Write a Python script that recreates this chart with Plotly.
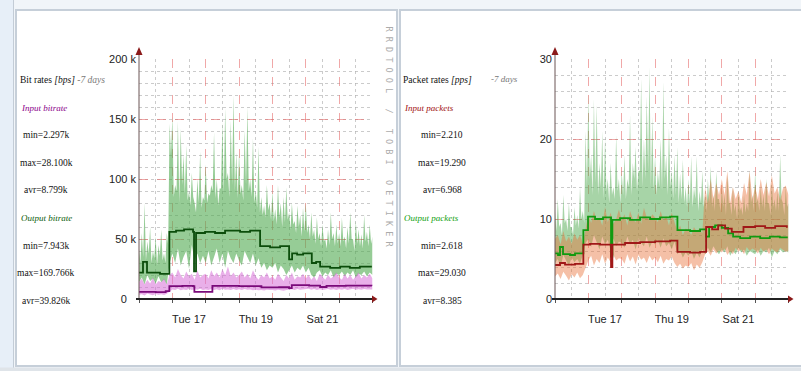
import plotly.graph_objects as go

W, H = 801, 371

# ---------------- time axis (days since Mon 16 00:00) ----------------------
# peak samples every 2 h (even hours), base samples at the odd hours between
N_PEAK = 85
N_BASE = 84
peak_days = [i / 12 for i in range(N_PEAK)]
base_days = [(i + 0.5) / 12 for i in range(N_BASE)]

day_tick_vals = [1.5, 3.5, 5.5]
day_tick_text = ["Tue 17", "Thu 19", "Sat 21"]

# ---------------- LEFT: bit rates (k bps) ----------------------------------
bit_out_max_peaks = [
    42, 55, 80, 48, 60, 40, 52, 45, 58, 38, 55, 146,
    152, 95, 148, 142, 120, 128, 90, 105, 80, 100, 123, 85,
    112, 88, 95, 139, 100, 92, 147, 159, 105, 149, 170, 122,
    122, 95, 141, 160, 100, 134, 90, 127, 85, 78, 95, 80,
    90, 75, 95, 80, 85, 93, 72, 80, 65, 78, 70, 76,
    80, 62, 72, 58, 68, 55, 62, 50, 58, 72, 55, 62,
    55, 68, 52, 60, 72, 50, 65, 58, 54, 70, 56, 62,
    52,
]
bit_out_max_base = [
    30, 35, 32, 38, 30, 34, 28, 36, 32, 30, 45, 120,
    85, 90, 80, 95, 88, 82, 78, 85, 72, 80, 76, 82,
    80, 86, 90, 84, 78, 92, 88, 100, 85, 95, 90, 84,
    88, 82, 95, 90, 85, 80, 76, 72, 70, 68, 74, 66,
    65, 62, 68, 60, 64, 66, 58, 62, 55, 60, 52, 56,
    55, 50, 52, 46, 50, 44, 48, 42, 45, 50, 44, 46,
    44, 48, 42, 46, 50, 40, 46, 44, 42, 48, 44, 46,
]
bit_out_min = [
    14, 18, 12, 20, 15, 17, 13, 19, 14, 16, 12, 30,
    38, 30, 42, 28, 35, 40, 25, 45, 32, 38, 30, 36,
    30, 40, 28, 36, 42, 30, 38, 26, 40, 34, 30, 38,
    32, 28, 40, 35, 30, 38, 28, 34, 26, 30, 24, 28,
    26, 30, 22, 28, 25, 20, 24, 28, 22, 26, 24, 28,
    22, 26, 20, 18, 22, 24, 19, 22, 20, 24, 18, 21,
    20, 23, 19, 22, 20, 24, 18, 21, 20, 23, 19, 22,
    20,
]
bit_in_max = [
    14, 17, 12, 16, 13, 18, 12, 15, 14, 17, 12, 20,
    22, 18, 25, 20, 17, 23, 19, 21, 16, 24, 18, 20,
    21, 17, 24, 19, 22, 18, 25, 20, 27, 19, 22, 18,
    20, 23, 18, 21, 17, 24, 19, 16, 20, 18, 22, 17,
    19, 16, 21, 18, 15, 20, 17, 22, 16, 19, 18, 21,
    17, 20, 16, 19, 15, 21, 18, 16, 20, 17, 19, 22,
    18, 16, 21, 17, 20, 16, 19, 22, 17, 20, 18, 21,
    17,
]
bit_in_min = [
    3.5, 4, 3, 4.5, 3.8, 3.2, 4.2, 3.6, 4, 3.4, 4.4, 6,
    8, 7.5, 8.5, 7.2, 8, 7.6, 8.4, 7.4, 8.2, 7.8, 8.6, 7.5,
    8, 7.4, 8.4, 7.6, 8.2, 7.2, 8.5, 7.8, 8, 7.4, 8.3, 7.6,
    8.1, 7.5, 8.4, 7.7, 8, 7.3, 7.8, 7.2, 7.6, 7, 7.8, 7.4,
    7.6, 7, 7.8, 7.2, 6.8, 7.4, 7.8, 8.2, 7.6, 8.4, 7.8, 8.2,
    8, 8.5, 7.8, 8.3, 7.6, 8.1, 7.4, 8, 8.4, 7.8, 8.2, 7.6,
    8.2, 7.8, 8.4, 7.6, 8, 8.5, 7.8, 8.2, 7.7, 8.3, 7.9, 8.1,
    8,
]
bit_out_avg_days = [0, 0.12, 0.24, 0.63, 0.91, 1.11, 1.35, 1.62, 1.65, 1.71,
                    1.98, 2.28, 2.58, 3.03, 3.33, 3.63, 3.93, 4.23, 4.50, 4.59,
                    4.74, 4.92, 5.18, 5.31, 5.43, 5.73, 6.03, 6.32, 6.62, 6.98]
bit_out_avg = [22, 31, 22, 21, 56, 57, 58, 56, 23, 55,
               56, 55, 57, 56, 57, 44, 43, 44, 33, 38,
               37, 38, 30, 31, 27, 26, 27, 26, 27, 27]
bit_in_avg_days = [0, 0.5, 0.8, 0.91, 1.3, 1.62, 1.66, 2.2, 3.0, 3.67,
                   4.2, 4.5, 4.58, 5.1, 5.43, 5.62, 6.2, 6.98]
bit_in_avg = [6, 5.8, 6.5, 10.8, 11, 10.8, 6, 11, 10.8, 9.7,
              9.8, 9, 11.5, 11.2, 10, 11, 11.2, 11]

bit_ytick_vals = [0, 50, 100, 150, 200]
bit_ytick_text = ["0\u00a0\u00a0\u00a0", "50 k", "100 k", "150 k", "200 k"]

# ---------------- RIGHT: packet rates (pps) --------------------------------
pkt_out_max_peaks = [
    11, 12.5, 9.5, 13, 10, 12, 9, 11.5, 10.5, 14, 11, 21,
    25.7, 18, 25, 24.3, 17, 21, 20, 15, 17, 14, 20.5, 15,
    16, 18, 15, 23, 17, 19, 16, 27.6, 20, 25.3, 29, 22.8,
    18, 16, 20, 27.2, 18, 21.4, 16, 18, 19, 15.7, 17.4, 14,
    15, 17.8, 14, 17.8, 13.5, 16, 13, 15, 16.6, 13, 15.9, 12.5,
    14, 13, 15.5, 12, 14, 11.8, 13.4, 11.5, 13, 12, 16, 13,
    16, 12.5, 14, 13, 15, 12, 14.5, 12.5, 13.5, 18, 12, 14,
    12,
]
pkt_out_max_base = [
    8.5, 9, 8, 9.5, 8.5, 9, 8, 9.2, 8.8, 10, 9.5, 14,
    15, 13, 14.5, 13, 14, 12.5, 13.5, 12, 13, 12.5, 13.5, 12,
    13, 12.5, 14, 13, 15, 13.5, 16, 14, 15, 16, 14, 13.5,
    13, 14, 13.5, 15, 13, 14, 12.5, 13, 12, 12.5, 12, 11.5,
    12, 11.5, 12.5, 11, 12, 11.5, 11, 12, 11.5, 11, 12.5, 11,
    11.5, 10.5, 12, 10.5, 11, 10, 11, 10.5, 10.8, 11, 12, 11,
    12, 11, 11.5, 11, 12, 10.5, 11.5, 11, 11, 12.5, 10.5, 11.5,
]
pkt_out_min = [
    4.5, 5, 4, 5.5, 4.8, 4.2, 5.2, 4.6, 5, 4.4, 5.5, 7,
    7.5, 6.5, 8, 7, 6.2, 7.8, 6.8, 7.4, 6, 7.6, 6.6, 7.2,
    7, 6.4, 7.8, 6.8, 7.4, 6.2, 7.6, 7, 6.6, 7.8, 6.4, 7.2,
    6.8, 7.4, 6.4, 7.6, 6.6, 7, 6.2, 7.2, 5.6, 6, 5.2, 5.8,
    5.4, 6, 5, 5.8, 5.2, 6.2, 5.6, 6.4, 5.8, 6.6, 6, 5.6,
    6.2, 5.8, 6.6, 5.4, 6, 5.6, 6.4, 5.8, 6.2, 5.4, 6, 5.8,
    5.6, 6.2, 5.4, 6, 5.8, 6.4, 5.2, 6, 5.6, 6.2, 5.8, 6,
    5.8,
]
pkt_in_max = [
    7.5, 8, 6.8, 8.5, 7.2, 7.8, 6.9, 8.2, 7.4, 8, 7, 9,
    10.5, 9.5, 11, 9.8, 10.2, 9.2, 11.5, 9.6, 10.8, 9.4, 10, 11.2,
    9.8, 10.6, 9.2, 11, 10, 9.6, 10.8, 9.4, 11.4, 10.2, 9.8, 10.6,
    10.2, 9.6, 11, 9.8, 10.4, 9.2, 10.8, 9.6, 8.5, 9.2, 8, 8.8,
    8.6, 8, 9, 8.4, 8.8, 8.2, 14, 12, 15, 12.5, 14.5, 13,
    15, 13, 16, 12, 14, 12.5, 13.5, 12, 14.5, 13, 16, 12.5,
    14, 12.5, 15, 13, 14.6, 12.8, 15.5, 13.2, 14, 12.4, 13.8, 14.2,
    13,
]
pkt_in_min = [
    2.8, 3.2, 2.5, 3.4, 2.9, 2.3, 3.1, 2.7, 3.3, 2.6, 3, 4,
    4.8, 5.4, 4.2, 5, 4.5, 5.6, 4.4, 5.2, 4.6, 5.5, 4.8, 5.1,
    5, 4.4, 5.6, 4.7, 5.3, 4.3, 5.5, 4.9, 5.2, 4.5, 5.4, 4.8,
    5.2, 4.6, 5.4, 4.4, 5, 4.8, 5.3, 4.5, 4, 4.4, 3.8, 4.2,
    4, 4.5, 3.6, 4.3, 3.9, 4.6, 5.6, 6, 5.4, 6.2, 5.7, 6.1,
    5.8, 6.3, 5.5, 6, 5.6, 6.4, 5.9, 6.2, 5.6, 6.5, 6, 6.3,
    6.1, 5.7, 6.4, 5.9, 6.2, 5.6, 6.3, 6, 5.8, 6.4, 6.1, 5.9,
    6,
]
pkt_out_avg_days = [0, 0.09, 0.15, 0.24, 0.45, 0.6, 0.85, 0.99, 1.2, 1.44,
                    1.68, 1.72, 1.95, 2.25, 2.55, 2.85, 3.15, 3.45, 3.67, 4.05,
                    4.35, 4.53, 4.62, 4.8, 5.0, 5.19, 5.34, 5.55, 5.85, 6.15,
                    6.44, 6.74, 6.95]
pkt_out_avg = [5.7, 5.5, 6.5, 5.6, 5.5, 5.7, 8.6, 10.3, 10.0, 10.2,
               5.3, 9.9, 10.1, 9.9, 10.2, 10.0, 10.2, 10.3, 8.6, 8.5,
               8.7, 7.8, 9.0, 9.2, 8.9, 8.2, 7.8, 7.6, 7.8, 7.6,
               7.8, 7.7, 7.8]
pkt_in_avg_days = [0, 0.15, 0.3, 0.6, 0.85, 1.05, 1.35, 1.68, 1.72, 2.1,
                   2.55, 3.0, 3.45, 3.67, 4.05, 4.35, 4.53, 4.71, 4.89, 5.1,
                   5.3, 5.65, 6.0, 6.3, 6.6, 6.95]
pkt_in_avg = [4.25, 4.5, 4.3, 4.4, 6.8, 6.9, 6.8, 4.0, 6.8, 7.0,
              7.1, 7.2, 7.3, 5.9, 5.8, 5.9, 9.0, 8.7, 9.2, 8.8,
              8.4, 9.0, 9.1, 8.9, 9.1, 8.9]

pkt_ytick_vals = [0, 10, 20, 30]
pkt_ytick_text = ["0", "10", "20", "30"]

# ---------------- legend texts ---------------------------------------------
bit_legend = {
    "title": "Bit rates <i>[bps]</i> <span style='color:#7a7a7a'><i>-7 days</i></span>",
    "in_name": "Input bitrate", "in_stats": ["min=2.297k", "max=28.100k", "avr=8.799k"],
    "out_name": "Output bitrate", "out_stats": ["min=7.943k", "max=169.766k", "avr=39.826k"],
}
pkt_legend = {
    "title": "Packet rates <i>[pps]</i>",
    "in_name": "Input packets", "in_stats": ["min=2.210", "max=19.290", "avr=6.968"],
    "out_name": "Output packets", "out_stats": ["min=2.618", "max=29.030", "avr=8.385"],
}


def merge(px_, py_, bx, by):
    pts = sorted(list(zip(px_, py_)) + list(zip(bx, by)))
    return [p[0] for p in pts], [p[1] for p in pts]


# ---------------- figure ---------------------------------------------------
def px_x(x):
    return x / W


def px_y(y):
    return 1 - y / H


fig = go.Figure()


def add_band(xa, ya, lo_x, lo, hi_x, hi, color):
    fig.add_trace(go.Scatter(x=lo_x, y=lo, xaxis=xa, yaxis=ya, mode="lines",
                             line=dict(width=0), hoverinfo="skip", showlegend=False))
    fig.add_trace(go.Scatter(x=hi_x, y=hi, xaxis=xa, yaxis=ya, mode="lines",
                             line=dict(width=0), fill="tonexty", fillcolor=color,
                             hoverinfo="skip", showlegend=False))


def add_step(xa, ya, xs, ys, color):
    fig.add_trace(go.Scatter(x=xs, y=ys, xaxis=xa, yaxis=ya, mode="lines",
                             line=dict(width=1.8, color=color, shape="hv"),
                             hoverinfo="skip", showlegend=False))


bx, by = merge(peak_days, bit_out_max_peaks, base_days, bit_out_max_base)
add_band("x", "y", peak_days, bit_out_min, bx, by, "rgba(80,170,80,0.6)")
add_band("x", "y", peak_days, bit_in_min, peak_days, bit_in_max, "rgba(215,110,215,0.55)")
add_step("x", "y", bit_out_avg_days, bit_out_avg, "#0b4d0b")
add_step("x", "y", bit_in_avg_days, bit_in_avg, "#7a0a7a")

rx, ry = merge(peak_days, pkt_out_max_peaks, base_days, pkt_out_max_base)
add_band("x2", "y2", peak_days, pkt_out_min, rx, ry, "rgba(80,170,80,0.5)")
add_band("x2", "y2", peak_days, pkt_in_min, peak_days, pkt_in_max, "rgba(232,115,60,0.45)")
add_step("x2", "y2", pkt_out_avg_days, pkt_out_avg, "#109a10")
add_step("x2", "y2", pkt_in_avg_days, pkt_in_avg, "#a01818")

LDOM = [px_x(139), px_x(372.5)]
RDOM = [px_x(555), px_x(788.5)]
YDOM = [px_y(299), px_y(59)]

TICKFONT = dict(family="Liberation Sans, sans-serif", size=11, color="#222")
MAJOR = "rgba(230,110,110,0.6)"
MINOR = "rgba(175,175,175,0.65)"


def xaxis_main(domain, anchor):
    return dict(domain=domain, anchor=anchor, range=[0, 7], tickmode="linear", tick0=0, dtick=1,
                showgrid=True, gridcolor=MAJOR, griddash="dash", gridwidth=1,
                minor=dict(dtick=0.5, tick0=0, showgrid=True, gridcolor=MINOR, griddash="dot", gridwidth=1),
                showticklabels=False, ticks="outside", ticklen=3, tickcolor="#555",
                zeroline=False, showline=False, fixedrange=True, automargin=False)


def xaxis_labels(overlay, anchor):
    return dict(overlaying=overlay, anchor=anchor, range=[0, 7], tickmode="array",
                tickvals=day_tick_vals, ticktext=day_tick_text, showgrid=False, ticks="",
                tickfont=TICKFONT, zeroline=False, showline=False, side="bottom",
                ticklabelstandoff=12, automargin=False, fixedrange=True)


def yaxis(domain, anchor, rng, tv, tt, minor_dt):
    return dict(domain=domain, anchor=anchor, range=rng, tickmode="array", tickvals=tv, ticktext=tt,
                showgrid=True, gridcolor=MAJOR, griddash="dash", gridwidth=1,
                minor=dict(dtick=minor_dt, tick0=0, showgrid=True, gridcolor=MINOR, griddash="dot", gridwidth=1),
                tickfont=TICKFONT, ticks="", ticklabelstandoff=2,
                zeroline=False, showline=False, fixedrange=True, automargin=False)


fig.update_layout(
    template="none",
    width=W, height=H, margin=dict(l=0, r=0, t=0, b=0, pad=0, autoexpand=False),
    paper_bgcolor="#f1f5f9", plot_bgcolor="rgba(0,0,0,0)", showlegend=False,
    hovermode=False,
    xaxis=xaxis_main(LDOM, "y"),
    xaxis2=xaxis_main(RDOM, "y2"),
    xaxis3=xaxis_labels("x", "y"),
    xaxis4=xaxis_labels("x2", "y2"),
    yaxis=yaxis(YDOM, "x", [0, 200], bit_ytick_vals, bit_ytick_text, 10),
    yaxis2=yaxis(YDOM, "x2", [0, 30], pkt_ytick_vals, pkt_ytick_text, 2),
)
fig.add_trace(go.Scatter(x=[0], y=[0], xaxis="x3", yaxis="y", mode="markers",
                         marker=dict(opacity=0), hoverinfo="skip", showlegend=False))
fig.add_trace(go.Scatter(x=[0], y=[0], xaxis="x4", yaxis="y2", mode="markers",
                         marker=dict(opacity=0), hoverinfo="skip", showlegend=False))

shapes = []
shapes.append(dict(type="rect", xref="paper", yref="paper", x0=0, x1=px_x(14), y0=0, y1=1,
                   fillcolor="#e7eff8", line=dict(width=0), layer="below"))
shapes.append(dict(type="line", xref="paper", yref="paper", x0=px_x(13.5), x1=px_x(13.5), y0=0, y1=1,
                   line=dict(color="#c3ccd6", width=1), layer="below"))
for x0, x1 in [(16, 397), (400, 803)]:
    shapes.append(dict(type="rect", xref="paper", yref="paper", x0=px_x(x0), x1=px_x(x1),
                       y0=px_y(366), y1=px_y(10), fillcolor="white",
                       line=dict(color="#c6cfd9", width=2), layer="below"))
shapes.append(dict(type="rect", xref="paper", yref="paper", x0=0, x1=1, y0=0, y1=px_y(367.5),
                   fillcolor="#dfe4e9", line=dict(width=0), layer="below"))

for xa, ya, wpx in [("x", "y", 233.5), ("x2", "y2", 233.5)]:
    xd, yd = xa + " domain", ya + " domain"
    ux, uy = 1 / wpx, 1 / 240
    shapes.append(dict(type="line", xref=xd, yref=yd, x0=0, x1=0, y0=0, y1=1 + 6 * uy,
                       line=dict(color="#6b5555", width=1)))
    shapes.append(dict(type="line", xref=xd, yref=yd, x0=-3 * ux, x1=1 + 1.5 * ux, y0=0, y1=0,
                       line=dict(color="#222", width=2)))
    shapes.append(dict(type="path", xref=xd, yref=yd,
                       path=f"M {-3.5*ux} {1+4*uy} L {3.5*ux} {1+4*uy} L 0 {1+12*uy} Z",
                       fillcolor="#8b1a1a", line=dict(width=0)))
    shapes.append(dict(type="path", xref=xd, yref=yd,
                       path=f"M {1-0.5*ux} {-3.5*uy} L {1-0.5*ux} {3.5*uy} L {1+5*ux} 0 Z",
                       fillcolor="#8b1a1a", line=dict(width=0)))
fig.update_layout(shapes=shapes)

SERIF = "Liberation Serif, serif"
LEG_SIZE = 9
ann = []


def legend(lg, x_left, x_center, in_color, out_color):
    ys = [80 + 27.6 * i for i in range(9)]
    ann.append(dict(text=lg["title"], x=px_x(x_left), y=px_y(ys[0]), xanchor="left"))
    ann.append(dict(text="<i>" + lg["in_name"] + "</i>", x=px_x(x_left + 1), y=px_y(ys[1]),
                    xanchor="left", font=dict(family=SERIF, size=LEG_SIZE, color=in_color)))
    for k, s in enumerate(lg["in_stats"]):
        ann.append(dict(text=s, x=px_x(x_center), y=px_y(ys[2 + k]), xanchor="center", align="center"))
    ann.append(dict(text="<i>" + lg["out_name"] + "</i>", x=px_x(x_left + 1), y=px_y(ys[5]),
                    xanchor="left", font=dict(family=SERIF, size=LEG_SIZE, color=out_color)))
    for k, s in enumerate(lg["out_stats"]):
        ann.append(dict(text=s, x=px_x(x_center), y=px_y(ys[6 + k]), xanchor="center", align="center"))


legend(bit_legend, 19, 46, "#8a008a", "#0c5c0c")
legend(pkt_legend, 402, 442, "#a01010", "#10a010")
ann.append(dict(text="<i>-7 days</i>", x=px_x(490), y=px_y(79), xanchor="left",
                font=dict(family=SERIF, size=LEG_SIZE, color="#777")))
ann.append(dict(text="\u00a0".join(list("RRDTOOL / TOBI OETIKER")), x=px_x(388.5), y=px_y(137),
                textangle=90, xanchor="center", yanchor="middle", align="center",
                font=dict(family="DejaVu Sans Mono, monospace", size=8.5, color="#ababab")))
for a in ann:
    a.setdefault("xref", "paper")
    a.setdefault("yref", "paper")
    a.setdefault("showarrow", False)
    a.setdefault("yanchor", "middle")
    a.setdefault("align", "left")
    a.setdefault("borderpad", 0)
    a.setdefault("font", dict(family=SERIF, size=LEG_SIZE + 0.5, color="#111"))
fig.update_layout(annotations=ann)

fig.write_html("out.html", config={"displayModeBar": False, "staticPlot": True},
               post_script="document.body.style.margin='0';document.body.style.padding='0';")
